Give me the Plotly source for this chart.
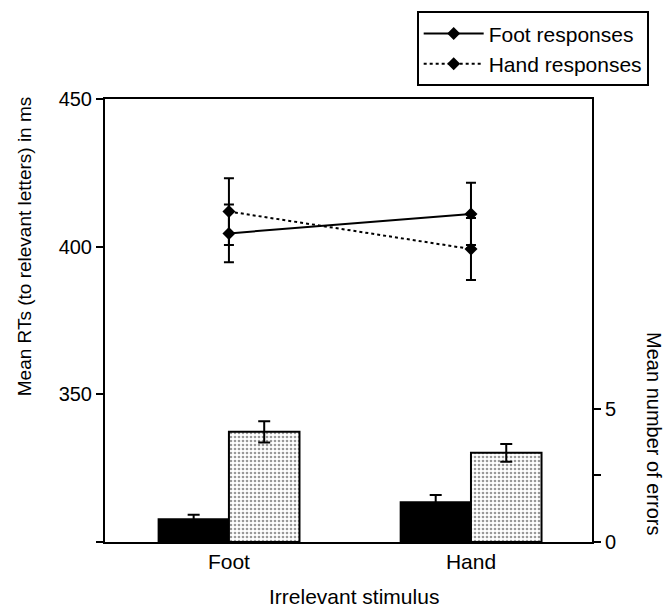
import plotly.graph_objects as go

categories = ["Foot", "Hand"]
cat_pos = [0, 1]

# RTs (left axis, ms)
rt_foot_resp = [404.5, 411.1]
rt_foot_err = [9.8, 10.5]
rt_hand_resp = [411.9, 399.2]
rt_hand_err = [11.3, 10.5]

# Errors (right axis)
err_foot_resp = [0.86, 1.5]
err_foot_sd = [0.16, 0.27]
err_hand_resp = [4.14, 3.35]
err_hand_sd = [0.4, 0.33]

left_ticks = [300, 350, 400, 450]
left_ticktext = ["", "350", "400", "450"]
right_ticks = [0, 2.5, 5]
right_ticktext = ["0", "", "5"]

FONT = "Liberation Sans, Arial, sans-serif"

fig = go.Figure()

fig.add_trace(go.Bar(
    x=cat_pos, y=err_foot_resp, yaxis="y2", showlegend=False,
    marker=dict(color="black", line=dict(color="black", width=1.5)),
    error_y=dict(type="data", array=err_foot_sd, color="black", thickness=2, width=6),
))
fig.add_trace(go.Bar(
    x=cat_pos, y=err_hand_resp, yaxis="y2", showlegend=False,
    marker=dict(color="white", line=dict(color="black", width=2),
                pattern=dict(shape=".", fgcolor="#333333", bgcolor="white",
                             size=4, solidity=0.35)),
    error_y=dict(type="data", array=err_hand_sd, color="black", thickness=2, width=6),
))

fig.add_trace(go.Scatter(
    x=cat_pos, y=rt_foot_resp, name="Foot responses", mode="lines+markers",
    line=dict(color="black", width=2),
    marker=dict(symbol="diamond", size=10, color="black"),
    error_y=dict(type="data", array=rt_foot_err, color="black", thickness=2, width=5),
))
fig.add_trace(go.Scatter(
    x=cat_pos, y=rt_hand_resp, name="Hand responses", mode="lines+markers",
    line=dict(color="black", width=2, dash="dot"),
    marker=dict(symbol="diamond", size=10, color="black"),
    error_y=dict(type="data", array=rt_hand_err, color="black", thickness=2, width=5),
))

fig.update_layout(
    width=667, height=609,
    margin=dict(l=105, r=75, t=99, b=67, autoexpand=False),
    paper_bgcolor="white", plot_bgcolor="white",
    font=dict(family=FONT, size=20, color="black"),
    barmode="group", bargap=0.417, bargroupgap=0,
    xaxis=dict(range=[-0.512, 1.5], tickvals=cat_pos, ticktext=categories,
               showline=True, linecolor="black", linewidth=2, mirror=True,
               ticks="", showgrid=False, zeroline=False, automargin=False,
               tickfont=dict(size=21)),
    yaxis=dict(range=[300, 450], tickvals=left_ticks, ticktext=left_ticktext,
               showline=True, linecolor="black", linewidth=2,
               ticks="outside", ticklen=7, tickwidth=2, tickcolor="black",
               showgrid=False, zeroline=False, automargin=False,
               tickfont=dict(size=20)),
    yaxis2=dict(range=[0, 16.65], overlaying="y", side="right",
                tickvals=right_ticks, ticktext=right_ticktext,
                showline=True, linecolor="black", linewidth=2,
                ticks="outside", ticklen=7, tickwidth=2, tickcolor="black",
                showgrid=False, zeroline=False, automargin=False,
                tickfont=dict(size=20)),
    legend=dict(x=0.64, y=1.198, xanchor="left", yanchor="top",
                bordercolor="black", borderwidth=2, bgcolor="white",
                font=dict(size=21), tracegroupgap=0, itemwidth=60),
    annotations=[
        dict(text="Mean RTs (to relevant letters) in ms", xref="paper", yref="paper",
             x=-0.166, y=0.668, xanchor="center", yanchor="middle",
             textangle=-90, showarrow=False, font=dict(size=19)),
        dict(text="Mean number of errors", xref="paper", yref="paper",
             x=1.127, y=0.244, xanchor="center", yanchor="middle",
             textangle=90, showarrow=False, font=dict(size=20)),
        dict(text="Irrelevant stimulus", xref="paper", yref="paper",
             x=0.511, y=-0.122, xanchor="center", yanchor="middle",
             showarrow=False, font=dict(size=21)),
    ],
)

fig.write_html("out.html", config={"displayModeBar": False},
               post_script="document.body.style.margin='0';")
